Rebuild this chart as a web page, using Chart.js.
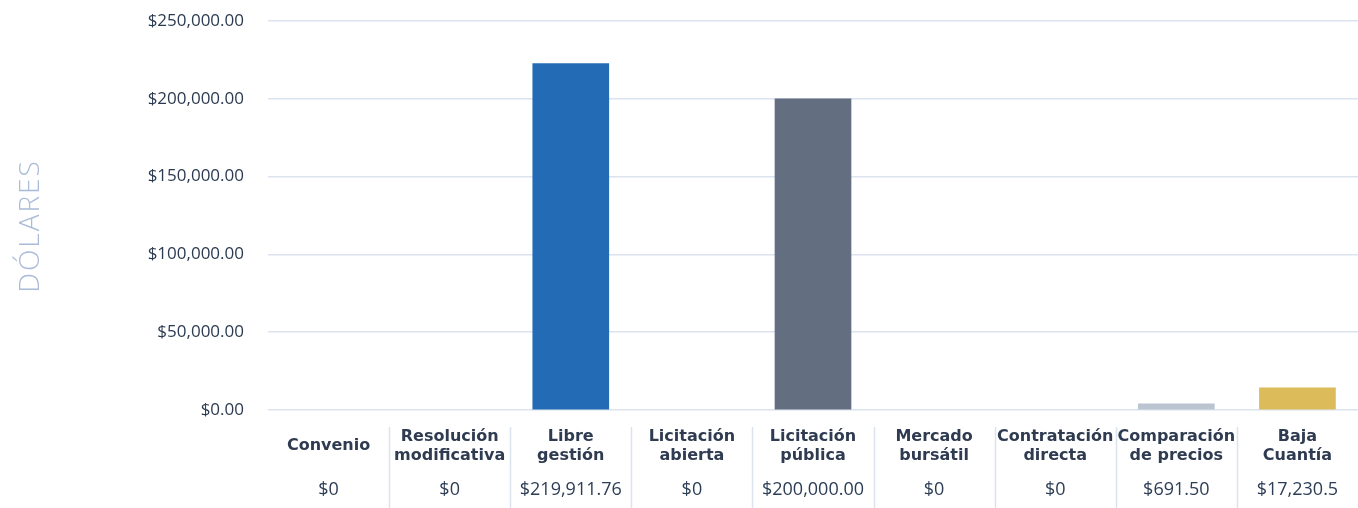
<!DOCTYPE html>
<html>
<head>
<meta charset="utf-8">
<script src="https://cdn.jsdelivr.net/npm/chart.js@4"></script>
<style>
  html, body { margin: 0; padding: 0; background: #fff; }
  #wrap { width: 1358px; height: 508px; position: relative; }
</style>
</head>
<body>
<div id="wrap"><canvas id="chart"></canvas></div>
<script>
// ── data ──
var categories = [
  ['Convenio'],
  ['Resolución', 'modificativa'],
  ['Libre', 'gestión'],
  ['Licitación', 'abierta'],
  ['Licitación', 'pública'],
  ['Mercado', 'bursátil'],
  ['Contratación', 'directa'],
  ['Comparación', 'de precios'],
  ['Baja', 'Cuantía']
];
// bar heights as drawn
var amounts = [0, 0, 222600, 0, 200000, 0, 0, 3900, 14200];
// amounts as printed in the table row
var amountLabels = ['$0', '$0', '$219,911.76', '$0', '$200,000.00', '$0', '$0', '$691.50', '$17,230.5'];
var barColors = ['#236cb5', '#236cb5', '#236cb5', '#636e80', '#636e80', '#636e80', '#bac5d1', '#bac5d1', '#dcbb5b'];
var yTicks = [0, 50000, 100000, 150000, 200000, 250000];
var yTitle = 'DÓLARES';

var GRID = '#dbe3ee';

// table row under the axis: amounts + column separators, plus the y title
var tableRow = {
  id: 'tableRow',
  afterDraw: function (chart) {
    var ctx = chart.ctx;
    var x = chart.scales.x;
    ctx.save();
    ctx.font = '18px "Open Sans"';
    ctx.fillStyle = '#2c3d55';
    ctx.textAlign = 'center';
    ctx.textBaseline = 'middle';
    amountLabels.forEach(function (txt, i) {
      ctx.fillText(txt, x.getPixelForValue(i), 490);
    });
    ctx.strokeStyle = GRID;
    ctx.lineWidth = 1.5;
    for (var i = 1; i < categories.length; i++) {
      var px = Math.round((x.getPixelForValue(i - 1) + x.getPixelForValue(i)) / 2) + 0.5;
      ctx.beginPath();
      ctx.moveTo(px, 427);
      ctx.lineTo(px, 508);
      ctx.stroke();
    }
    ctx.font = '300 28px "Open Sans"';
    ctx.fillStyle = '#abbbd8';
    ctx.letterSpacing = '2px';
    ctx.translate(31, 226);
    ctx.rotate(-Math.PI / 2);
    ctx.fillText(yTitle, 0, 0);
    ctx.restore();
  }
};

new Chart(document.getElementById('chart'), {
  type: 'bar',
  data: {
    labels: categories,
    datasets: [{
      data: amounts,
      backgroundColor: function (c) {
        return c.raw ? barColors[c.dataIndex] : 'rgba(0,0,0,0)';
      },
      barThickness: 76,
      borderWidth: 0
    }]
  },
  options: {
    responsive: true,
    maintainAspectRatio: false,
    animation: false,
    layout: { padding: { top: 21, left: 0, right: 0, bottom: 0 } },
    plugins: {
      legend: { display: false },
      tooltip: { enabled: false }
    },
    scales: {
      x: {
        grid: { display: false },
        border: { display: false },
        ticks: {
          autoSkip: false,
          maxRotation: 0,
          crossAlign: 'center',
          padding: 19,
          color: '#2f3b50',
          font: { family: 'DejaVu Sans', size: 16, weight: 'bold', lineHeight: 1.15 }
        },
        afterFit: function (axis) { axis.height = 98; }
      },
      y: {
        min: 0,
        max: 250000,
        afterBuildTicks: function (axis) {
          axis.ticks = yTicks.map(function (v) { return { value: v }; });
        },
        grid: { color: GRID, lineWidth: 1.5, drawTicks: false },
        border: { display: false },
        ticks: {
          padding: 24,
          color: '#2b3a50',
          font: { family: 'Open Sans', size: 17 },
          callback: function (v) {
            return '$' + Number(v).toLocaleString('en-US', { minimumFractionDigits: 2, maximumFractionDigits: 2 });
          }
        },
        afterFit: function (axis) {
          axis.width = 268;
          axis.paddingTop = 0;
          axis.paddingBottom = 0;
        }
      }
    }
  },
  plugins: [tableRow]
});
</script>
</body>
</html>
